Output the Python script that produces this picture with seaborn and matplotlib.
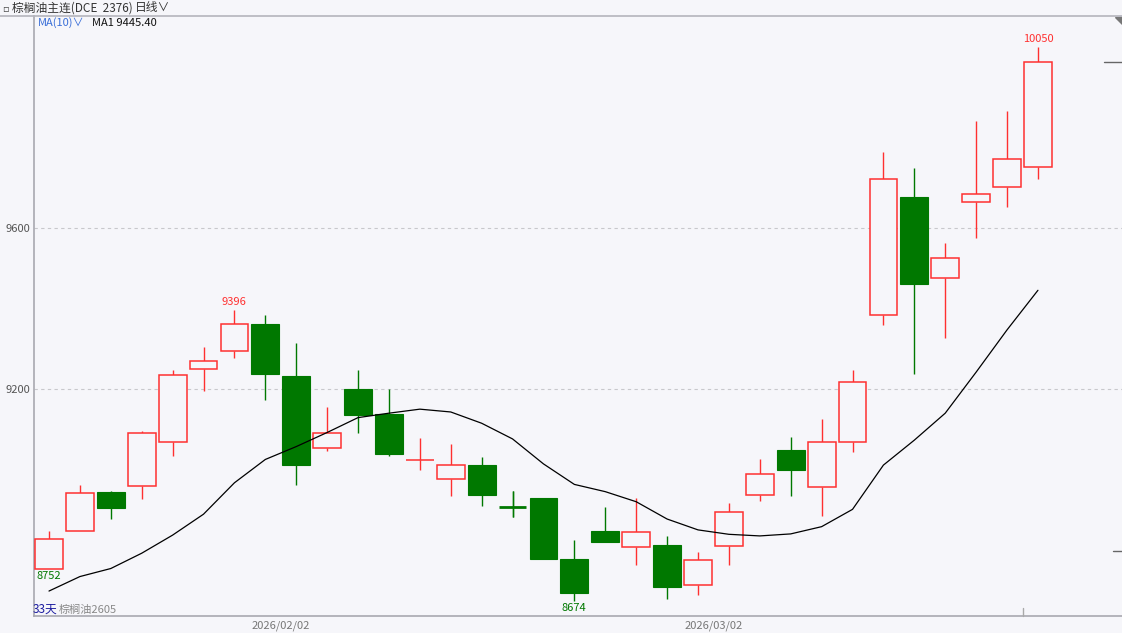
import numpy as np
import pandas as pd
import matplotlib
matplotlib.use("Agg")
import matplotlib.pyplot as plt
import seaborn as sns

# daily candles, 33 days
opens = [8752, 8846, 8944, 8959, 9068, 9250, 9294, 9361, 9232, 9054, 9199,
         9137, 9023, 8977, 9011, 8906, 8928, 8778, 8847, 8807, 8812, 8712,
         8809, 8936, 9048, 8957, 9068, 9383, 9677, 9475, 9664, 9702, 9752]
closes = [8827, 8941, 8905, 9090, 9236, 9269, 9361, 9237, 9011, 9091, 9135,
          9039, 9023, 9010, 8936, 8905, 8777, 8693, 8820, 8845, 8709, 8775,
          8895, 8990, 8998, 9068, 9217, 9721, 9461, 9525, 9684, 9771, 10012]
highs = [8848, 8961, 8946, 9095, 9247, 9304, 9396, 9384, 9315, 9156, 9247,
         9200, 9079, 9063, 9030, 8947, 8929, 8825, 8908, 8929, 8835, 8795,
         8918, 9026, 9081, 9125, 9247, 9790, 9749, 9562, 9867, 9891, 10050]
lows = [8752, 8846, 8878, 8927, 9034, 9194, 9276, 9174, 8961, 9047, 9091,
        9034, 8998, 8933, 8909, 8883, 8777, 8674, 8819, 8763, 8679, 8687,
        8763, 8922, 8933, 8885, 9043, 9358, 9238, 9328, 9576, 9653, 9723]
ma10 = [8698, 8734, 8754, 8792, 8837, 8889, 8967, 9025, 9057, 9092, 9129,
        9140, 9150, 9143, 9115, 9076, 9014, 8963, 8945, 8920, 8877, 8850,
        8839, 8835, 8840, 8858, 8901, 9011, 9073, 9140, 9242, 9347, 9445.4]
date_labels = ["2026/02/02", "2026/03/02"]
date_pos = [7.5, 21.5]
y_ticks = [9200, 9600]

df = pd.DataFrame({"i": np.arange(len(opens)), "open": opens, "close": closes,
                   "high": highs, "low": lows, "ma": ma10})

bg = "#f6f6fa"
red = "#ff3030"
green = "#007800"

sns.set_style("white")
plt.rcParams["font.family"] = ["Noto Sans CJK SC", "DejaVu Sans"]

fig = plt.figure(figsize=(11.22, 6.33), dpi=100, facecolor=bg)
ax = fig.add_axes([34 / 1122, 17 / 633, 1 - 34 / 1122, 600 / 633])
ax.set_facecolor(bg)

w = 0.9
for _, r in df.iterrows():
    up = r["close"] >= r["open"]
    col = red if up else green
    top = max(r["open"], r["close"])
    bot = min(r["open"], r["close"])
    ax.vlines(r["i"], top, r["high"], color=col, lw=1, zorder=2)
    ax.vlines(r["i"], r["low"], bot, color=col, lw=1, zorder=2)
    if up:
        ax.bar(r["i"], top - bot, bottom=bot, width=w, facecolor=bg,
               edgecolor=col, lw=1.1, zorder=3)
    else:
        if top - bot < 2:
            ax.hlines(top, r["i"] - w / 2, r["i"] + w / 2, color=col, lw=2, zorder=3)
            ax.vlines(r["i"], r["low"], r["high"], color=col, lw=1, zorder=2)
        else:
            ax.bar(r["i"], top - bot, bottom=bot, width=w, facecolor=col,
                   edgecolor=col, lw=0.8, zorder=3)

sns.lineplot(data=df, x="i", y="ma", color="black", lw=0.9, ax=ax, zorder=4)

# high / low marks
imax = int(np.argmax(highs))
ax.text(imax, highs[imax] + 8, str(highs[imax]), color=red, fontsize=8,
        ha="center", va="bottom")
ax.text(6, highs[6] + 8, str(highs[6]), color=red, fontsize=8,
        ha="center", va="bottom")
imin = int(np.argmin(lows))
ax.text(imin, lows[imin] - 5, str(lows[imin]), color=green, fontsize=8,
        ha="center", va="top")
ax.text(0, lows[0] - 5, str(lows[0]), color=green, fontsize=8,
        ha="center", va="top")

ax.set_xlim(-0.485, 34.72)
ax.set_ylim(8636, 10127)
ax.set_yticks(y_ticks)
ax.set_yticklabels([str(v) for v in y_ticks], color="#555555", fontsize=8)
ax.set_xticks(date_pos)
ax.set_xticklabels(date_labels, color="#777777", fontsize=8)
ax.tick_params(length=0, pad=3)
ax.set_xlabel("")
ax.set_ylabel("")
for v in y_ticks:
    ax.axhline(v, color="#c8c8cc", lw=0.8, ls=(0, (3, 3)), zorder=1)

for s in ["top", "right"]:
    ax.spines[s].set_visible(False)
for s in ["left", "bottom"]:
    ax.spines[s].set_color("#a8a8b0")
    ax.spines[s].set_linewidth(1.2)

# header line and small marks
fig.add_artist(plt.Line2D([0, 1], [1 - 16 / 633] * 2, color="#b4b4bc", lw=1.2))
fig.add_artist(plt.Line2D([1104 / 1122, 1], [1 - 62 / 633] * 2, color="#666666", lw=1))
fig.add_artist(plt.Line2D([1113 / 1122, 1], [1 - 551 / 633] * 2, color="#666666", lw=1))
fig.add_artist(plt.Line2D([1023 / 1122] * 2, [17 / 633, 25 / 633], color="#aaaaaa", lw=1))
fig.add_artist(plt.Polygon([[1115 / 1122, 1 - 17 / 633], [1, 1 - 17 / 633],
                            [1, 1 - 24 / 633]], closed=True, color="#777777"))

fig.text(2 / 1122, 1 - 8 / 633, "▫", fontsize=7, color="#444444", va="center",
         family=["DejaVu Sans"])
fig.text(12 / 1122, 1 - 8 / 633, "棕榈油主连(DCE  2376)", fontsize=8.5,
         color="#333333", va="center")
fig.text(135 / 1122, 1 - 8 / 633, "日线∨", fontsize=8.5, color="#333333",
         va="center")
fig.text(38 / 1122, 1 - 23 / 633, "MA(10)∨", fontsize=8, color="#3a6fd8",
         va="center")
fig.text(92 / 1122, 1 - 23 / 633, "MA1 9445.40", fontsize=8, color="#111111",
         va="center")
fig.text(33 / 1122, 1 - 609 / 633, "33天", fontsize=8.5, color="#1c1ca0",
         va="center")
fig.text(59 / 1122, 1 - 610 / 633, "棕榈油2605", fontsize=8, color="#888888",
         va="center")

fig.savefig("out.png", dpi=100, facecolor=bg)
